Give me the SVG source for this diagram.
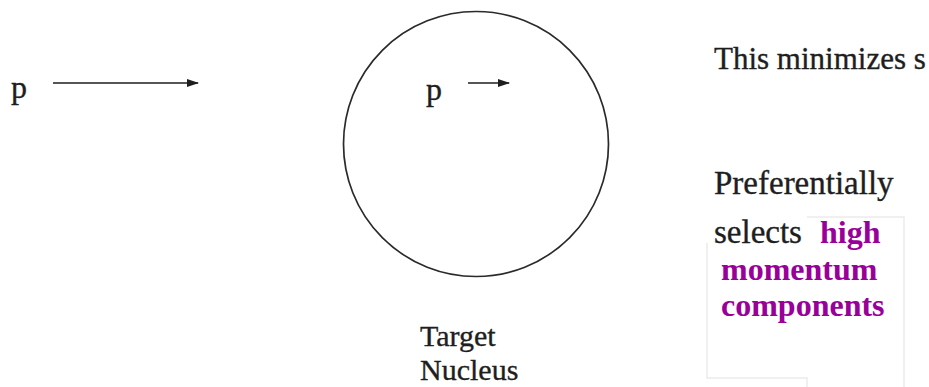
<svg xmlns="http://www.w3.org/2000/svg" width="929" height="387" viewBox="0 0 929 387">
<style>
.t{font-family:"Liberation Serif","Times New Roman",serif;fill:#1e1e1e;stroke:#1e1e1e;stroke-width:0.35}
.h{font-family:"Liberation Serif","Times New Roman",serif;font-weight:bold;fill:#990099}
.c{stroke:#1e1e1e;stroke-width:1.7}
.faint{fill:none;stroke:#ebebeb;stroke-width:1.5}
</style>
<defs>
<marker id="ah" viewBox="0 0 12 8" refX="11" refY="4" markerWidth="12" markerHeight="8" markerUnits="userSpaceOnUse" orient="auto">
<path d="M0,0 L12,4 L0,8 Z" fill="#1e1e1e"/>
</marker>
</defs>
<rect width="929" height="387" fill="#ffffff"/>
<g id="incoming">
<text class="t" x="11" y="98" font-size="32">p</text>
</g>
<g id="nucleus">
<circle cx="476" cy="144" r="132.5" fill="none" stroke="#2a2a2a" stroke-width="1.7"/>
<text class="t" x="426" y="100" font-size="32">p</text>
<text class="t" x="420" y="346" font-size="30">Target</text>
<text class="t" x="420" y="380" font-size="30">Nucleus</text>
</g>
<g id="connectors">
<line class="c" x1="53" y1="83" x2="198" y2="83" marker-end="url(#ah)"/>
<line class="c" x1="468" y1="83" x2="509" y2="83" marker-end="url(#ah)"/>
</g>
<g id="notes">
<text class="t" x="714" y="69" font-size="31">This minimizes s</text>
<text class="t" x="714" y="194" font-size="33">Preferentially</text>
<polyline class="faint" points="707,243 707,378 807,378 807,387"/>
<polyline class="faint" points="807,217 904,217 904,387"/>
<text class="t" x="714" y="243" font-size="33">selects</text>
<text class="h" x="820" y="243" font-size="32">high</text>
<text class="h" x="721" y="280" font-size="32">momentum</text>
<text class="h" x="721" y="316" font-size="32">components</text>
</g>
</svg>
